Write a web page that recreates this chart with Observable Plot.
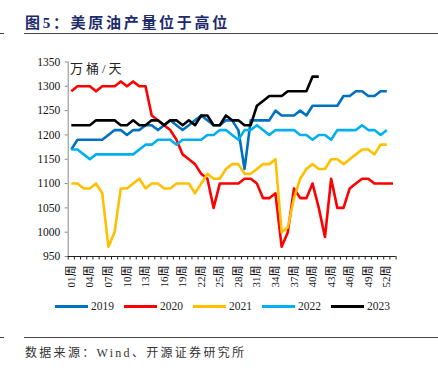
<!DOCTYPE html>
<html><head><meta charset="utf-8">
<script src="https://cdn.jsdelivr.net/npm/d3@7"></script>
<script src="https://cdn.jsdelivr.net/npm/@observablehq/plot@0.6"></script>
<style>
body{margin:0;background:#fff;}
#wrap{position:relative;width:438px;height:372px;overflow:hidden;font-family:"Liberation Serif","Noto Sans CJK SC",serif;}
#title{position:absolute;left:25px;top:11px;font-size:15px;font-weight:bold;color:#1d2a6b;letter-spacing:2.7px;white-space:nowrap;}
.hr{position:absolute;height:0;border-top:1.3px solid #444;}
#chart{position:absolute;left:0;top:40px;}
#ylab{position:absolute;left:70px;top:58px;font-size:13px;letter-spacing:3px;color:#222;white-space:nowrap;}
#legend{position:absolute;left:55px;top:300px;display:flex;align-items:center;font-size:11.5px;color:#222;}
#legend .item{display:flex;align-items:center;margin-right:10px;}
#legend .sw{width:33px;height:3px;margin-right:3px;}
#source{position:absolute;left:25px;top:343px;font-size:12px;letter-spacing:2.3px;color:#333;white-space:nowrap;}
</style></head>
<body>
<div id="wrap">
  <div id="title">图5：美原油产量位于高位</div>
  <div class="hr" style="left:0;width:4px;top:33px"></div>
  <div class="hr" style="left:24px;width:414px;top:33px"></div>
  <div id="chart"></div>
  <div id="ylab">万桶/天</div>
  <div id="legend"></div>
  <div class="hr" style="left:0;width:4px;top:337px"></div>
  <div class="hr" style="left:24px;width:414px;top:337px"></div>
  <div id="source">数据来源：Wind、开源证券研究所</div>
</div>
<script>
const years = ["2019", "2020", "2021", "2022", "2023"];
const colors = ["#0070C0", "#FF0000", "#FFC000", "#00B0F0", "#000000"];

const v2019 = [1170,1190,1190,1190,1190,1190,1200,1210,1210,1200,1210,1210,1220,1220,1210,1220,1230,1220,1210,1220,1230,1240,1230,1220,1220,1230,1230,1210,1130,1230,1230,1230,1230,1250,1240,1240,1240,1250,1240,1260,1260,1260,1260,1260,1280,1280,1290,1290,1280,1280,1290,1290];
const v2020 = [1290,1300,1300,1300,1290,1300,1300,1300,1310,1300,1310,1300,1300,1240,1230,1220,1210,1190,1160,1150,1140,1120,1110,1050,1100,1100,1100,1100,1110,1110,1100,1070,1070,1080,970,1000,1090,1070,1070,1100,1050,990,1110,1050,1050,1090,1100,1110,1110,1100,1100,1100,1100];
const v2021 = [1100,1100,1090,1090,1100,1080,970,1000,1090,1090,1100,1110,1090,1100,1100,1090,1090,1100,1100,1100,1080,1100,1120,1110,1110,1130,1140,1140,1120,1120,1130,1140,1140,1150,1000,1010,1070,1110,1130,1140,1130,1130,1150,1150,1140,1150,1160,1170,1170,1160,1180,1180];
const v2022 = [1170,1170,1160,1150,1160,1160,1160,1160,1160,1160,1160,1170,1180,1180,1190,1190,1190,1180,1190,1190,1190,1190,1200,1200,1210,1210,1200,1190,1210,1210,1220,1210,1200,1210,1210,1210,1210,1200,1200,1190,1200,1200,1190,1210,1210,1210,1210,1220,1210,1210,1200,1210];
const v2023 = [1220,1220,1220,1220,1230,1230,1230,1230,1220,1220,1230,1220,1220,1230,1230,1220,1230,1230,1220,1230,1220,1240,1240,1220,1220,1240,1230,1230,1220,1220,1260,1270,1280,1280,1280,1290,1290,1290,1290,1320,1320];

const xLabelWeeks = [1,4,7,10,13,16,19,22,25,28,31,34,37,40,43,46,49,52];
const yTicks = [950,1000,1050,1100,1150,1200,1250,1300,1350];

const series = [v2019, v2020, v2021, v2022, v2023];
const data = years.flatMap((yr, i) => series[i].map((v, j) => ({year: yr, week: j + 1, value: v})));
const bounds = d3.range(0, 54).map(i => i + 0.5);

const chart = Plot.plot({
  width: 438, height: 250,
  marginLeft: 67.7, marginRight: 42.4, marginTop: 21.5, marginBottom: 34,
  style: {fontFamily: '"Liberation Serif","Noto Sans CJK SC",serif', fontSize: "11.5px", color: "#111", background: "transparent"},
  x: {domain: [0.5, 53.5]},
  y: {domain: [950, 1350]},
  color: {domain: years, range: colors},
  marks: [
    Plot.ruleX([0.5], {stroke: "#888", strokeWidth: 1}),
    Plot.axisY({ticks: yTicks, tickSize: 3, tickPadding: 5, stroke: "#888", tickFormat: d => String(d), fontSize: 11.5, label: null}),
    Plot.line(data, {x: "week", y: "value", z: "year", stroke: "year", strokeWidth: 2.6, strokeLinejoin: "round", strokeLinecap: "butt"}),
    Plot.ruleY([950], {stroke: "#222", strokeWidth: 1}),
    Plot.axisX({ticks: bounds, tickSize: 3.5, tickFormat: () => "", stroke: "#222", label: null}),
    Plot.axisX({ticks: xLabelWeeks, tickSize: 0, tickPadding: 9, tickRotate: -90, tickFormat: d => String(d).padStart(2, "0") + "周", fontSize: 11, label: null})
  ]
});
document.getElementById("chart").appendChild(chart);

const legend = document.getElementById("legend");
years.forEach((yr, i) => {
  const item = document.createElement("div");
  item.className = "item";
  const sw = document.createElement("div");
  sw.className = "sw";
  sw.style.background = colors[i];
  const t = document.createElement("span");
  t.textContent = yr;
  item.appendChild(sw); item.appendChild(t);
  legend.appendChild(item);
});
</script>
</body></html>
